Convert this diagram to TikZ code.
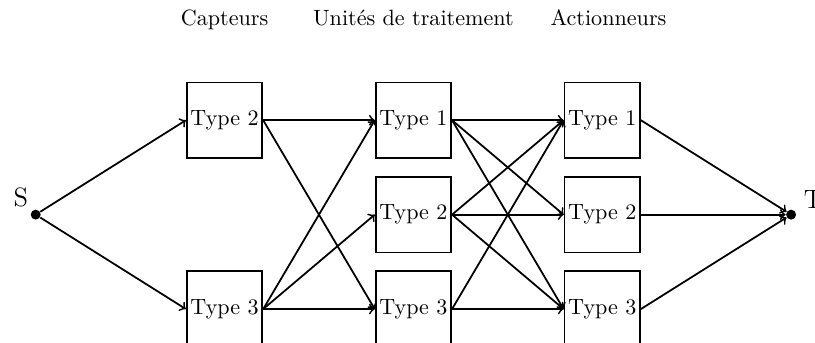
\documentclass[tikz,border=0pt]{standalone}
\usetikzlibrary{arrows}
\begin{document}
\begin{tikzpicture}[
  box/.style={draw,thick,minimum size=1.2cm,inner sep=1pt},
  dot/.style={circle,fill,inner sep=0pt,minimum size=4.5pt},
  arr/.style={->,thick},
  head/.style={anchor=base}
]
\useasboundingbox (-0.567,-2.024) rectangle (12.38,3.41);
\node[dot,label={[font=\large,xshift=1.8pt,yshift=-1.7pt]above left:S}] (S) at (0,0) {};
\node[dot,label={[font=\large,xshift=0.5pt,yshift=-2.5pt]above right:T}] (T) at (12,0) {};
\node[box] (c2) at (3,1.5) {Type 2};
\node[box] (c3) at (3,-1.5) {Type 3};
\node[box] (u1) at (6,1.5) {Type 1};
\node[box] (u2) at (6,0) {Type 2};
\node[box] (u3) at (6,-1.5) {Type 3};
\node[box] (a1) at (9,1.5) {Type 1};
\node[box] (a2) at (9,0) {Type 2};
\node[box] (a3) at (9,-1.5) {Type 3};
\node[head] (h1) at (3,3) {Capteurs};
\node[head] (h2) at (6,3) {Unités de traitement};
\node[head] (h3) at (9.1,3) {Actionneurs};
\draw[arr] (S) -- (c2.west);
\draw[arr] (S) -- (c3.west);
\draw[arr] (c2.east) -- (u1.west);
\draw[arr] (c2.east) -- (u3.west);
\draw[arr] (c3.east) -- (u1.west);
\draw[arr] (c3.east) -- (u2.west);
\draw[arr] (c3.east) -- (u3.west);
\draw[arr] (u1.east) -- (a1.west);
\draw[arr] (u1.east) -- (a2.west);
\draw[arr] (u1.east) -- (a3.west);
\draw[arr] (u2.east) -- (a1.west);
\draw[arr] (u2.east) -- (a2.west);
\draw[arr] (u2.east) -- (a3.west);
\draw[arr] (u3.east) -- (a1.west);
\draw[arr] (u3.east) -- (a3.west);
\draw[arr] (a1.east) -- (T);
\draw[arr] (a2.east) -- (T);
\draw[arr] (a3.east) -- (T);
\end{tikzpicture}
\end{document}
